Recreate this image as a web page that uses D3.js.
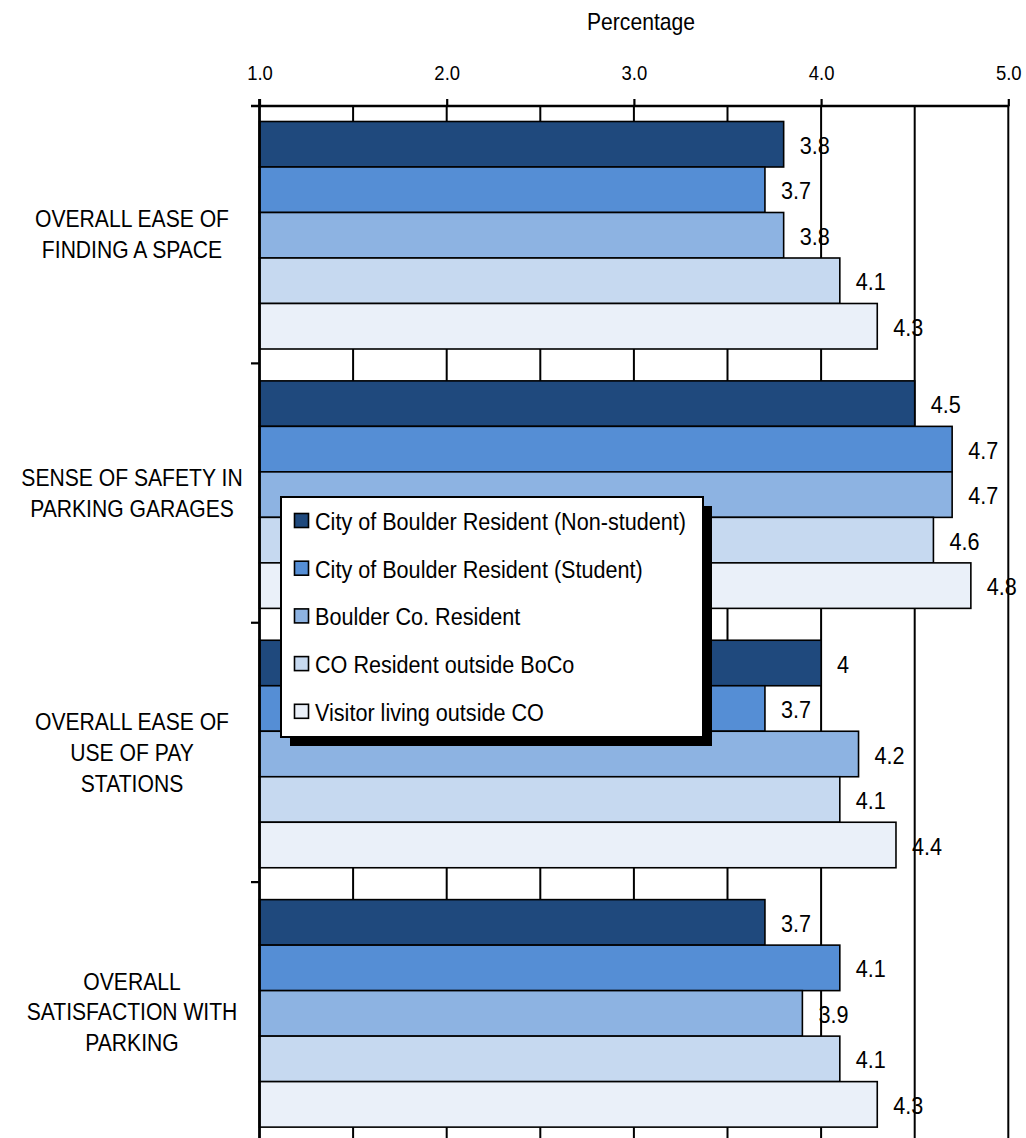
<!DOCTYPE html>
<html><head><meta charset="utf-8">
<script src="https://cdn.jsdelivr.net/npm/d3@7"></script>
<style>
html,body{margin:0;padding:0;background:#fff;}
svg{display:block;}
text{font-family:"Liberation Sans",Arial,sans-serif;fill:#000;}
</style>
</head><body>
<svg id="chart" width="1026" height="1138"></svg>
<script>
// ---- data ----
const categories = [
  "OVERALL EASE OF\nFINDING A SPACE",
  "SENSE OF SAFETY IN\nPARKING GARAGES",
  "OVERALL EASE OF\nUSE OF PAY\nSTATIONS",
  "OVERALL\nSATISFACTION WITH\nPARKING"
];
const seriesNames = [
  "City of Boulder Resident (Non-student)",
  "City of Boulder Resident (Student)",
  "Boulder Co. Resident",
  "CO Resident outside BoCo",
  "Visitor living outside CO"
];
const nonStudent = [3.8, 4.5, 4.0, 3.7];
const student    = [3.7, 4.7, 3.7, 4.1];
const boulderCo  = [3.8, 4.7, 4.2, 3.9];
const coResident = [4.1, 4.6, 4.1, 4.1];
const visitor    = [4.3, 4.8, 4.4, 4.3];
const seriesValues = [nonStudent, student, boulderCo, coResident, visitor];
const seriesColors = ["#1F497D", "#558ED5", "#8DB3E2", "#C6D9F0", "#EAF0F9"];
const tickValues = [1, 2, 3, 4, 5];
const gridValues = [1.5, 2, 2.5, 3, 3.5, 4, 4.5, 5];
const axisTitle = "Percentage";

// ---- layout ----
const svg = d3.select("#chart");
const axisY = 106, bottomY = 1141.5;
const x = d3.scaleLinear().domain([1, 5]).range([259.5, 1008.3]);
const y = d3.scaleBand().domain(categories).range([104, 1141.5]);
const ySeries = d3.scaleBand().domain(seriesNames).range([17.5, 17.5 + 227.5]);
const color = d3.scaleOrdinal().domain(seriesNames).range(seriesColors);

const rows = [];
categories.forEach((c, i) => {
  seriesNames.forEach((s, j) => rows.push({cat: c, series: s, value: seriesValues[j][i]}));
});

// value labels (drawn below gridlines, as in the reference)
svg.append("g").selectAll("text").data(rows).join("text")
  .attr("transform", d => `translate(${x(d.value) + 16},${y(d.cat) + ySeries(d.series) + ySeries.bandwidth() / 2 + 9.5}) scale(0.9,1)`)
  .attr("font-size", 24)
  .text(d => String(d.value));

// gridlines
svg.append("g").selectAll("line").data(gridValues).join("line")
  .attr("x1", d => x(d)).attr("x2", d => x(d))
  .attr("y1", axisY).attr("y2", bottomY)
  .attr("stroke", "#000").attr("stroke-width", 2);

// bars
svg.append("g").selectAll("rect").data(rows).join("rect")
  .attr("x", x(1))
  .attr("y", d => y(d.cat) + ySeries(d.series))
  .attr("width", d => x(d.value) - x(1))
  .attr("height", ySeries.bandwidth())
  .attr("fill", d => color(d.series))
  .attr("stroke", "#000").attr("stroke-width", 1.6);

// left axis
svg.append("line").attr("x1", x(1)).attr("x2", x(1)).attr("y1", 99).attr("y2", bottomY)
  .attr("stroke", "#000").attr("stroke-width", 2.8);
svg.append("g").selectAll("line").data(categories.slice(1)).join("line")
  .attr("x1", 251).attr("x2", x(1)).attr("y1", d => y(d)).attr("y2", d => y(d))
  .attr("stroke", "#000").attr("stroke-width", 2.2);

// top axis
const gx = svg.append("g").attr("transform", `translate(0,${axisY})`)
  .call(d3.axisTop(x).tickValues(tickValues).tickFormat(d3.format(".1f"))
    .tickSize(7).tickSizeOuter(0).tickPadding(19));
gx.select(".domain").remove();
gx.selectAll(".tick line").attr("stroke", "#000").attr("stroke-width", 2.2);
gx.selectAll(".tick text").attr("font-size", 21).attr("fill", "#000")
  .attr("font-family", "Liberation Sans, Arial, sans-serif")
  .attr("transform", "scale(0.88,1)");
svg.append("line").attr("x1", 251).attr("x2", x(5) + 1).attr("y1", axisY).attr("y2", axisY)
  .attr("stroke", "#000").attr("stroke-width", 2.4);

// axis title
svg.append("text").attr("transform", "translate(641,30) scale(0.88,1)")
  .attr("text-anchor", "middle").attr("font-size", 24).text(axisTitle);

// category labels
categories.forEach(c => {
  const lines = c.split("\n");
  const cy = y(c) + y.bandwidth() / 2;
  lines.forEach((ln, k) => {
    const base = cy + (k - (lines.length - 1) / 2) * 30.7 + 8.6;
    svg.append("text").attr("transform", `translate(132,${base}) scale(0.88,1)`)
      .attr("text-anchor", "middle").attr("font-size", 24).text(ln);
  });
});

// legend
const lg = svg.append("g");
lg.append("rect").attr("x", 290).attr("y", 506).attr("width", 422).attr("height", 240).attr("fill", "#000");
lg.append("rect").attr("x", 281).attr("y", 497).attr("width", 422).attr("height", 240)
  .attr("fill", "#fff").attr("stroke", "#000").attr("stroke-width", 2);
seriesNames.forEach((s, i) => {
  const base = 530 + i * 47.7;
  lg.append("rect").attr("x", 294.5).attr("y", base - 16.5).attr("width", 14).attr("height", 14)
    .attr("fill", color(s)).attr("stroke", "#000").attr("stroke-width", 1.6);
  lg.append("text").attr("transform", `translate(315,${base}) scale(0.9,1)`)
    .attr("font-size", 24).text(s);
});
</script>
</body></html>
